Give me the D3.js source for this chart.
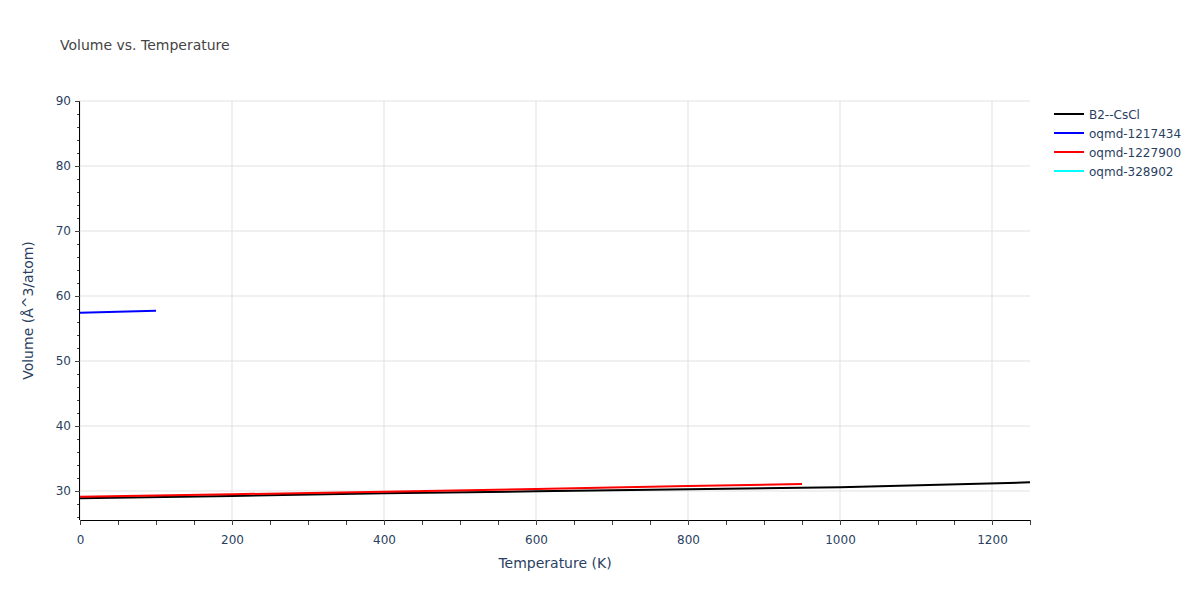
<!DOCTYPE html>
<html><head><meta charset="utf-8">
<script src="https://cdn.jsdelivr.net/npm/d3@7"></script>
<style>body{margin:0;background:#fff;}svg{font-family:"DejaVu Sans",Verdana,sans-serif;}</style>
</head><body><svg id="c" width="1200" height="600"></svg>
<script>
const seriesNames = ["B2--CsCl","oqmd-1217434","oqmd-1227900","oqmd-328902"];
const seriesColors = ["#000000","#0000ff","#ff0000","#00ffff"];
const b2T = [0, 200, 400, 600, 800, 1000, 1250];
const b2V = [28.88, 29.25, 29.65, 29.95, 30.26, 30.57, 31.33];
const q1217434T = [0, 100];
const q1217434V = [57.43, 57.74];
const q1227900T = [0, 200, 400, 600, 800, 950];
const q1227900V = [29.12, 29.5, 29.9, 30.3, 30.77, 31.08];
const q328902T = [];
const q328902V = [];
const xTicks = [0,200,400,600,800,1000,1200];
const yTicks = [30,40,50,60,70,80,90];

const series = [
  {T:b2T,V:b2V},{T:q1217434T,V:q1217434V},{T:q1227900T,V:q1227900V},{T:q328902T,V:q328902V}
];
const svg = d3.select("#c");
const L=80,R=1030,Tp=101,B=520;
const x = d3.scaleLinear().domain([0,1250]).range([L,R]);
const y = d3.scaleLinear().domain([25.54,90]).range([B,Tp]);
const txt="#2a3f5f";
const ff="'DejaVu Sans',Verdana,sans-serif";

// grid
svg.append("g").selectAll("line").data(xTicks).join("line")
  .attr("x1",d=>x(d)).attr("x2",d=>x(d)).attr("y1",Tp).attr("y2",B)
  .attr("stroke","#e1e1e1").attr("stroke-width",1);
svg.append("g").selectAll("line").data(yTicks).join("line")
  .attr("x1",L).attr("x2",R).attr("y1",d=>y(d)).attr("y2",d=>y(d))
  .attr("stroke","#e1e1e1").attr("stroke-width",1);

// lines
const line = d3.line().x(d=>x(d[0])).y(d=>y(d[1]));
svg.append("clipPath").attr("id","cp").append("rect").attr("x",L).attr("y",Tp).attr("width",R-L).attr("height",B-Tp);
series.forEach((s,i)=>{
  if(!s.T.length) return;
  svg.append("path").datum(s.T.map((t,j)=>[t,s.V[j]]))
    .attr("d",line).attr("fill","none").attr("stroke",seriesColors[i]).attr("stroke-width",2)
    .attr("clip-path","url(#cp)");
});

// axes
const xMinor = d3.range(0,1251,50);
const yMinor = d3.range(26,91,2);
const xa = svg.append("g").attr("transform",`translate(0,${B})`);
xa.call(d3.axisBottom(x).tickValues(xMinor).tickSize(5).tickFormat(""));
xa.call(g=>g.select(".domain").remove());
xa.selectAll("line").attr("stroke","#444");
const xa2 = svg.append("g").attr("transform",`translate(0,${B})`)
  .call(d3.axisBottom(x).tickValues(xTicks).tickSize(5).tickSizeOuter(0).tickPadding(10).tickFormat(d3.format("d")));
xa2.select(".domain").attr("stroke","#000").attr("d",`M${L},0.5H${R}`);
xa2.selectAll("line").attr("stroke","#444");
xa2.selectAll("text").attr("fill",txt).attr("font-size",12).attr("font-family",ff);

const ya = svg.append("g").attr("transform",`translate(${L},0)`);
ya.call(d3.axisLeft(y).tickValues(yMinor).tickSize(3).tickFormat(""));
ya.call(g=>g.select(".domain").remove());
ya.selectAll("line").attr("stroke","#444");
const ya2 = svg.append("g").attr("transform",`translate(${L},0)`)
  .call(d3.axisLeft(y).tickValues(yTicks).tickSize(5).tickSizeOuter(0).tickPadding(4));
ya2.select(".domain").attr("stroke","#000").attr("d",`M-0.5,${Tp}V${B}`);
ya2.selectAll("line").attr("stroke","#444");
ya2.selectAll("text").attr("fill",txt).attr("font-size",12).attr("font-family",ff);

// titles
svg.append("text").attr("x",60).attr("y",50).attr("fill","#444").attr("font-size",14).text("Volume vs. Temperature");
svg.append("text").attr("x",(L+R)/2).attr("y",568).attr("text-anchor","middle").attr("fill",txt).attr("font-size",14).text("Temperature (K)");
svg.append("text").attr("transform",`translate(33,${(Tp+B)/2}) rotate(-90)`).attr("text-anchor","middle").attr("fill",txt).attr("font-size",14).text("Volume (Å^3/atom)");

// legend
const lg = svg.append("g");
seriesNames.forEach((n,i)=>{
  const yy = 114 + i*19;
  lg.append("line").attr("x1",1054).attr("x2",1084).attr("y1",yy).attr("y2",yy).attr("stroke",seriesColors[i]).attr("stroke-width",2);
  lg.append("text").attr("x",1089).attr("y",yy+4.5).attr("fill",txt).attr("font-size",12).text(n);
});
</script></body></html>
